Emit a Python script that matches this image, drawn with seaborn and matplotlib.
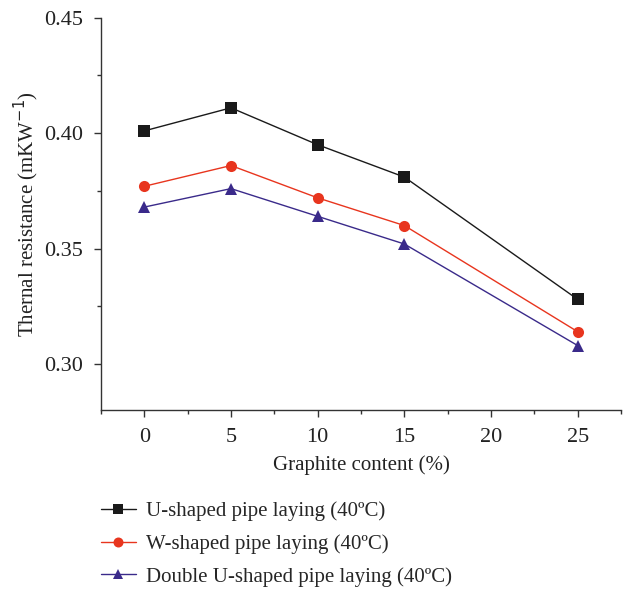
import matplotlib
matplotlib.use("Agg")
import matplotlib.pyplot as plt
import seaborn as sns
import pandas as pd
from matplotlib.ticker import MultipleLocator

graphite = [0, 5, 10, 15, 25]
u_shaped = [0.401, 0.411, 0.395, 0.381, 0.328]
w_shaped = [0.377, 0.386, 0.372, 0.360, 0.314]
double_u = [0.368, 0.376, 0.364, 0.352, 0.308]
series_names = ["U-shaped pipe laying (40ºC)", "W-shaped pipe laying (40ºC)",
                "Double U-shaped pipe laying (40ºC)"]

rows = []
for name, vals in zip(series_names, [u_shaped, w_shaped, double_u]):
    for x, v in zip(graphite, vals):
        rows.append({"Graphite": x, "R": v, "Series": name})
df = pd.DataFrame(rows)

sns.set_style("ticks")
plt.rcParams['font.family'] = ['Liberation Serif', 'DejaVu Serif']

fig = plt.figure(figsize=(6.23, 5.92), dpi=100)
ax = fig.add_axes([0.162, 0.307, 0.835, 0.663])

palette = {series_names[0]: "#1a1a1a", series_names[1]: "#e8351e", series_names[2]: "#3a2a8a"}
markers = {series_names[0]: "s", series_names[1]: "o", series_names[2]: "^"}
sns.lineplot(data=df, x="Graphite", y="R", hue="Series", style="Series",
             palette=palette, markers=markers, dashes=False, markersize=8,
             markeredgewidth=0, linewidth=1.0, ax=ax)

ax.set_xlim(-2.5, 27.5)
ax.set_ylim(0.28, 0.45)
ax.xaxis.set_major_locator(MultipleLocator(5))
ax.xaxis.set_minor_locator(MultipleLocator(2.5))
ax.yaxis.set_major_locator(MultipleLocator(0.05))
ax.yaxis.set_minor_locator(MultipleLocator(0.025))
ax.yaxis.set_major_formatter(matplotlib.ticker.FormatStrFormatter("%.2f"))
ax.tick_params(axis="both", which="major", length=5, width=1, labelsize=16,
               colors="#333333", labelcolor="#222222")
ax.tick_params(axis="x", which="major", pad=8)
ax.tick_params(axis="y", which="major", pad=8)
ax.tick_params(axis="both", which="minor", length=3, width=1, colors="#333333")
for s in ["top", "right"]:
    ax.spines[s].set_visible(False)
for s in ["left", "bottom"]:
    ax.spines[s].set_color("#333333")
    ax.spines[s].set_linewidth(1.0)

ax.set_xlabel("Graphite content (%)", fontsize=15, color="#222222", labelpad=6)
ax.set_ylabel("Thernal resistance (mKW$^{-1}$)", fontsize=15, color="#222222", labelpad=2)

handles, labels = ax.get_legend_handles_labels()
ax.legend_.remove()
fig.legend(handles, labels, loc="upper left", bbox_to_anchor=(0.1487, 0.167),
           frameon=False, fontsize=15, handlelength=1.68, labelspacing=0.62,
           handletextpad=0.48, borderaxespad=0, markerscale=0.9)

fig.savefig("out.png", dpi=100)
